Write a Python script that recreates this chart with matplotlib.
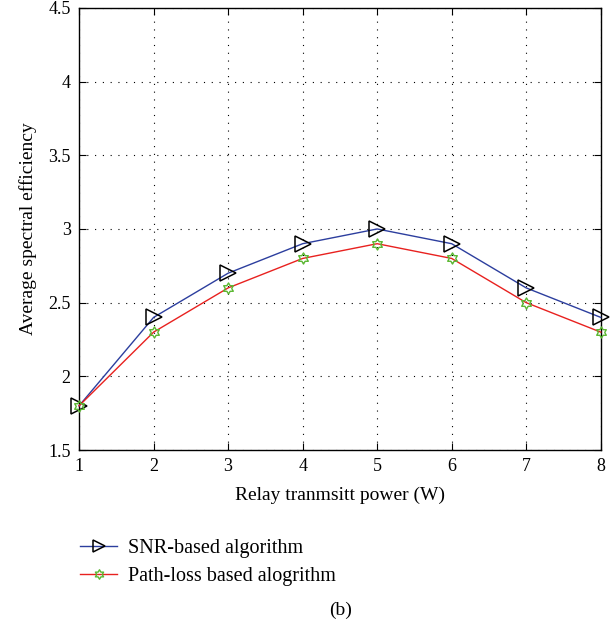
import matplotlib
matplotlib.use("Agg")
import matplotlib.pyplot as plt
from matplotlib.path import Path
import numpy as np

plt.rcParams['font.family'] = ['Liberation Serif', 'DejaVu Serif']

x = [1, 2, 3, 4, 5, 6, 7, 8]
snr = [1.8, 2.4, 2.7, 2.9, 3.0, 2.9, 2.6, 2.4]
pathloss = [1.8, 2.3, 2.6, 2.8, 2.9, 2.8, 2.5, 2.3]
xticks = [1, 2, 3, 4, 5, 6, 7, 8]
yticks = [1.5, 2, 2.5, 3, 3.5, 4, 4.5]

# hexagram marker (two overlapping triangles outline)
ang = np.deg2rad(np.arange(12) * 30 + 90)
r = np.array([1 if i % 2 == 0 else 0.58 for i in range(12)])
verts = list(zip(r * np.cos(ang), r * np.sin(ang)))
verts.append(verts[0])
hexagram = Path(verts, [Path.MOVETO] + [Path.LINETO] * 11 + [Path.CLOSEPOLY])

fig = plt.figure(figsize=(6.13, 6.28), dpi=100)
ax = fig.add_axes([0.129, 0.2834, 0.851, 0.704])

l1, = ax.plot(x, snr, color='#2c3e9e', lw=1.0, marker='>', markersize=11,
              markerfacecolor='none', markeredgecolor='black', markeredgewidth=1.1,
              label='SNR-based algorithm', clip_on=False, zorder=3)
l2, = ax.plot(x, pathloss, color='#e8211f', lw=1.0, marker=hexagram, markersize=8,
              markerfacecolor='none', markeredgecolor='#5bb832', markeredgewidth=1.0,
              label='Path-loss based alogrithm', clip_on=False, zorder=3)

ax.set_xlim(1, 8)
ax.set_ylim(1.5, 4.5)
ax.set_xticks(xticks)
ax.set_yticks(yticks)
ax.set_yticklabels([('%g' % v) for v in yticks])
ax.tick_params(direction='in', top=True, right=True, labelsize=13, length=5, pad=6)
ax.grid(True, color='black', linestyle=(0, (1, 6)), linewidth=0.8)
for s in ax.spines.values():
    s.set_linewidth(1.0)

ax.set_xlabel('Relay tranmsitt power (W)', fontsize=14, labelpad=8)
ax.set_ylabel('Average spectral efficiency', fontsize=14, labelpad=8)

fig.legend(handles=[l1, l2], loc='upper left', bbox_to_anchor=(0.118, 0.155),
           frameon=False, fontsize=14.5, handlelength=1.8, handletextpad=0.55,
           labelspacing=0.45, borderaxespad=0, markerscale=0.85)
fig.text(0.555, 0.028, '(b)', ha='center', va='center', fontsize=14)

fig.savefig('out.png', dpi=100)
